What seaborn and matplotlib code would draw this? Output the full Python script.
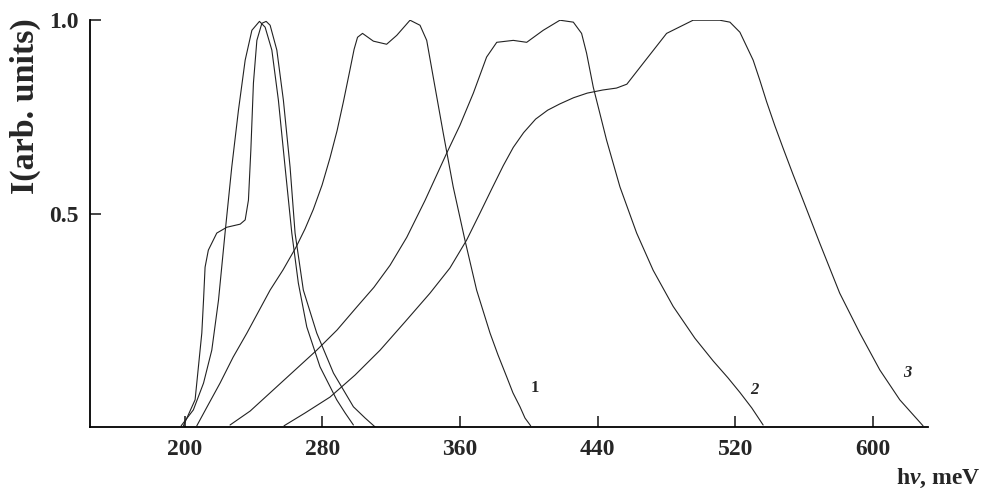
import pandas as pd
import numpy as np
import matplotlib
matplotlib.use("Agg")
import matplotlib.pyplot as plt
import seaborn as sns

# DATA: photon energy in meV, intensity in arb. units
# narrow peak with a shoulder
a_ev = [199.3, 206.1, 210.0, 211.0, 211.9, 213.8, 218.7, 224.5, 232.3, 235.2,
        237.1, 238.5, 240.0, 242.0, 244.9, 247.4, 249.7, 253.6, 257.4, 261.3,
        264.2, 269.0, 276.8, 286.5, 298.1, 304.9, 310.7]
a_int = [-0.046, 0.021, 0.193, 0.278, 0.363, 0.407, 0.451, 0.466, 0.474, 0.485,
         0.536, 0.665, 0.838, 0.948, 0.992, 0.997, 0.987, 0.923, 0.794, 0.621,
         0.451, 0.304, 0.193, 0.090, 0.003, -0.026, -0.049]

# narrow peak without shoulder
b_ev = [198.0, 205.1, 211.0, 215.8, 219.7, 223.5, 227.4, 231.3, 235.2, 239.1,
        243.5, 246.8, 250.7, 254.5, 258.4, 262.3, 266.1, 271.0, 278.7, 288.4,
        293.3, 298.1]
b_int = [-0.046, -0.005, 0.064, 0.149, 0.278, 0.451, 0.621, 0.768, 0.897, 0.974,
         0.997, 0.982, 0.923, 0.794, 0.621, 0.451, 0.322, 0.209, 0.106, 0.021,
         -0.013, -0.044]

# curve 1
c1_ev = [207.1, 213.7, 220.6, 228.2, 236.2, 249.7, 257.2, 264.8, 270.0, 274.8,
         279.9, 284.5, 288.6, 292.3, 296.0, 298.5, 300.5, 303.4, 309.7, 317.4,
         323.3, 331.0, 336.8, 340.7, 344.5, 350.3, 356.1, 362.9, 369.7, 377.5,
         382.1, 387.2, 390.8, 394.9, 397.8, 401.1]
c1_int = [-0.046, 0.008, 0.064, 0.131, 0.193, 0.304, 0.356, 0.415, 0.462, 0.512,
          0.575, 0.645, 0.715, 0.790, 0.870, 0.925, 0.956, 0.966, 0.946, 0.938,
          0.961, 1.0, 0.987, 0.948, 0.853, 0.709, 0.570, 0.433, 0.304, 0.193,
          0.137, 0.080, 0.039, 0.003, -0.026, -0.046]

# curve 2
c2_ev = [226.4, 238.1, 249.7, 263.0, 276.8, 288.6, 300.0, 310.0, 319.4, 329.1,
         339.7, 352.3, 360.0, 367.8, 375.5, 381.4, 391.0, 398.8, 408.4, 418.1,
         425.9, 430.7, 433.6, 437.5, 441.3, 445.2, 453.0, 462.7, 472.3, 483.9,
         496.5, 507.2, 515.7, 522.7, 529.6, 536.2]
c2_int = [-0.044, -0.008, 0.039, 0.093, 0.149, 0.201, 0.260, 0.311, 0.368, 0.440,
          0.535, 0.657, 0.729, 0.812, 0.905, 0.943, 0.948, 0.943, 0.974, 1.0,
          0.995, 0.966, 0.915, 0.827, 0.760, 0.691, 0.570, 0.451, 0.355, 0.262,
          0.180, 0.121, 0.078, 0.040, 0.000, -0.044]

# curve 3
c3_ev = [257.8, 270.0, 284.5, 299.1, 313.6, 328.1, 342.6, 354.2, 363.9, 371.7,
         378.5, 385.2, 391.0, 397.0, 404.0, 411.0, 418.0, 426.0, 434.0, 443.0,
         451.0, 457.0, 466.5, 480.1, 495.5, 511.0, 516.9, 522.7, 530.4, 534.3,
         538.2, 543.0, 547.8, 553.5, 559.4, 569.1, 580.7, 592.4, 604.0, 615.6,
         629.1]
c3_int = [-0.046, -0.013, 0.028, 0.085, 0.149, 0.222, 0.296, 0.361, 0.433, 0.503,
          0.565, 0.625, 0.672, 0.710, 0.745, 0.768, 0.784, 0.800, 0.812, 0.820,
          0.825, 0.835, 0.889, 0.966, 1.0, 1.0, 0.995, 0.969, 0.897, 0.845,
          0.790, 0.728, 0.670, 0.603, 0.536, 0.425, 0.296, 0.193, 0.098, 0.021,
          -0.046]

curve_labels = ["1", "2", "3"]
label_ev = [403.6, 531.4, 620.2]
label_int = [0.052, 0.046, 0.090]

x_ticks = [200, 280, 360, 440, 520, 600]
y_ticks = [0.5, 1.0]

# BUILD LONG TABLE
parts = []
for name, xs, ys in [("a", a_ev, a_int), ("b", b_ev, b_int),
                     ("1", c1_ev, c1_int), ("2", c2_ev, c2_int),
                     ("3", c3_ev, c3_int)]:
    parts.append(pd.DataFrame({"curve": name, "energy": xs, "intensity": ys}))
df = pd.concat(parts, ignore_index=True)

# STYLE
sns.set_theme(style="white")
plt.rcParams["font.family"] = ["Liberation Serif", "DejaVu Serif"]
plt.rcParams["font.weight"] = "bold"
plt.rcParams["mathtext.fontset"] = "custom"
plt.rcParams["mathtext.rm"] = "Liberation Serif:bold"
plt.rcParams["mathtext.it"] = "Liberation Serif:italic:bold"

fig = plt.figure(figsize=(9.82, 4.93), dpi=100)
ax = fig.add_axes([0.0916, 0.134, 0.8534, 0.825])

sns.lineplot(
    data=df,
    x="energy",
    y="intensity",
    hue="curve",
    palette=["#222222"] * 5,
    estimator=None,
    linewidth=0.8,
    legend=False,
    ax=ax
)

for lab, xv, yv in zip(curve_labels, label_ev, label_int):
    ax.text(xv, yv, lab, fontsize=12, fontweight="bold",
            fontstyle="normal" if lab == "1" else "italic",
            ha="center", va="center")

ax.set_xlim(145, 632)
ax.set_ylim(-0.049, 1.0)
ax.set_xticks(x_ticks)
ax.set_yticks(y_ticks)
ax.set_yticklabels(["0.5", "1.0"])
ax.tick_params(direction="in", length=8, width=1.2, labelsize=17,
               bottom=True, left=True)
ax.tick_params(axis="x", pad=9)
ax.tick_params(axis="y", pad=8)
for lbl in ax.get_xticklabels() + ax.get_yticklabels():
    lbl.set_fontweight("bold")

sns.despine(ax=ax)
for side in ["left", "bottom"]:
    ax.spines[side].set_color("black")
    ax.spines[side].set_linewidth(1.3)
ax.set_xlabel("")
ax.set_ylabel("")

fig.text(25 / 982, 1 - 106 / 493, "I(arb. units)", rotation=90,
         fontsize=24.5, fontweight="bold", ha="center", va="center")
fig.text(980 / 982, 1 - 478 / 493, r"h$\nu$, meV",
         fontsize=17, fontweight="bold", ha="right", va="center")

fig.savefig("out.png", dpi=100)
